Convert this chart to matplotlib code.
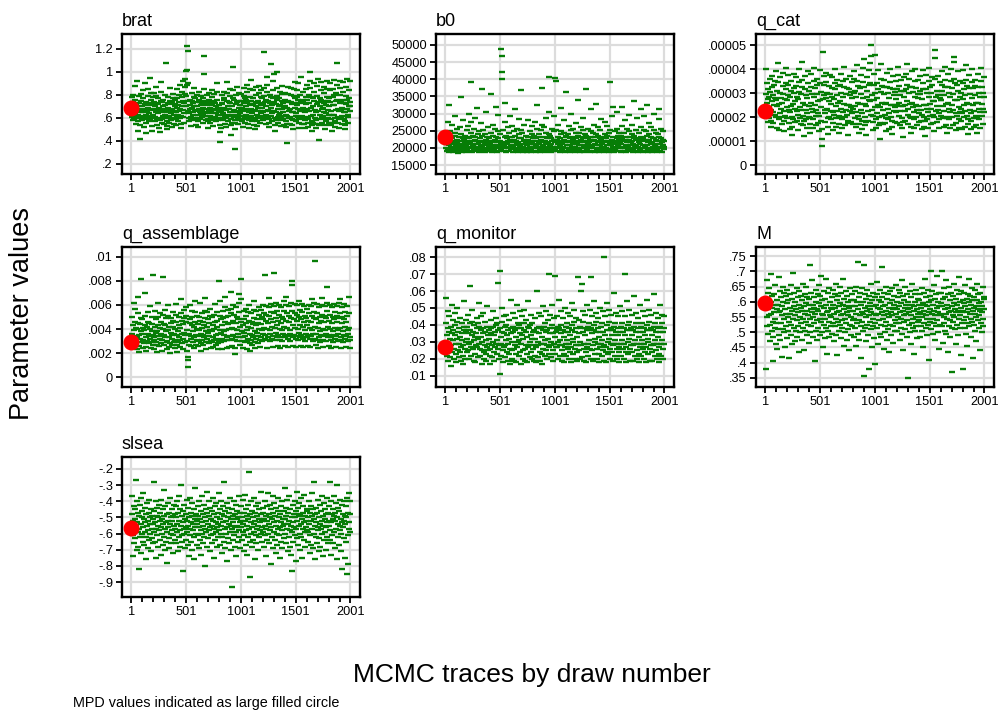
import numpy as np
import matplotlib
matplotlib.use('Agg')
import matplotlib.pyplot as plt
from matplotlib.ticker import FixedLocator

plt.rcParams['font.family'] = ['Liberation Sans', 'DejaVu Sans']

# ---------------- data (trace values) ----------------
# each trace is stored as integer levels: value = base + step * level
draw_first, draw_last = 1, 2001

brat_base, brat_step = 0.30, 0.01
brat = [
    39,42,48,31,28,50,44,36,33,29,40,58,46,34,25,30,41,62,37,32,27,19,33,43,49,38,30,12,24,36,45,51,35,40,32,28,35,47,54,31,22,29,38,42,60,44,33,26,17,30,36,41,49,55,39,31,27,34,65,43,28,32,46,52,37,23,19,30,41,48,
    33,38,44,52,40,31,27,35,43,49,57,36,29,24,34,42,47,39,30,21,18,28,37,45,53,61,44,35,29,26,32,40,46,38,31,25,33,41,50,78,36,30,23,20,27,35,43,48,39,32,26,31,37,45,56,42,34,28,22,29,38,44,51,47,36,30,25,33,40,46,
    42,35,29,24,31,39,47,55,41,33,27,36,44,50,59,38,30,25,21,32,40,48,53,62,45,37,31,26,34,43,51,57,64,49,40,71,59,72,93,88,60,45,36,30,27,34,41,46,38,29,23,31,39,45,52,43,35,28,33,40,48,56,47,37,30,24,29,36,44,50,
    40,33,27,22,30,38,46,53,44,35,29,34,41,49,42,36,31,26,33,39,47,55,68,84,45,38,32,28,35,43,50,41,34,27,21,29,37,44,52,46,39,32,26,31,36,42,48,54,41,34,28,23,30,38,45,51,43,37,31,27,34,40,46,53,60,39,33,28,35,41,
    37,30,24,18,9,21,29,36,43,50,42,34,28,33,39,46,53,47,38,31,25,22,30,37,45,52,61,40,33,27,32,38,44,49,55,43,35,29,24,15,26,33,40,47,54,74,46,37,31,26,3,20,28,35,42,50,57,44,36,30,25,33,39,45,52,41,34,28,32,38,
    45,51,39,32,27,22,29,36,43,49,56,47,38,31,26,33,40,46,53,59,44,37,30,25,21,28,35,42,48,55,63,45,38,32,27,34,41,47,54,42,36,30,24,20,29,37,44,50,57,40,33,27,23,31,39,45,52,58,43,36,30,26,34,41,48,54,47,39,32,28,
    35,42,49,56,87,44,36,30,25,33,40,46,53,59,66,45,37,31,26,22,29,36,43,50,77,48,39,32,27,34,41,47,54,62,68,44,36,30,24,19,28,35,42,49,56,70,46,38,31,26,33,40,47,53,41,34,28,23,30,38,45,51,58,43,35,29,24,32,39,46,
    52,40,33,27,22,8,25,32,39,45,51,57,44,36,30,25,31,38,44,50,56,42,35,29,24,20,28,35,43,49,55,61,47,39,32,27,34,41,48,54,60,46,38,31,26,21,29,36,43,50,66,45,37,30,25,32,39,46,53,44,36,30,25,21,28,35,42,48,55,59,
    46,38,31,26,22,29,36,43,50,56,62,70,48,39,32,27,24,19,26,33,40,47,53,60,45,37,30,25,21,28,35,42,49,58,64,44,36,29,24,11,25,33,40,47,54,61,46,38,31,26,32,39,45,52,57,43,35,29,24,20,27,34,41,48,55,62,45,37,30,26,
    33,40,47,54,60,44,36,29,24,19,26,33,41,48,55,63,50,41,33,27,22,30,37,45,52,59,78,46,38,31,26,21,29,36,43,50,56,62,45,37,30,25,32,39,46,53,61,43,35,29,24,20,27,35,42,49,57,64,46,38,31,26,33,40,47,54,62,44,36,40,
]

b0_base, b0_step = 18000, 400
b0 = [
    13,5,8,3,10,15,24,9,4,2,7,36,17,11,6,3,5,9,22,12,8,4,2,6,10,16,28,14,7,3,5,11,19,9,4,1,6,13,8,3,10,20,42,15,7,4,2,8,12,25,11,6,3,9,14,5,2,7,18,10,
    4,8,13,21,30,12,6,3,9,16,53,24,10,5,2,7,14,19,8,4,11,27,13,6,3,5,10,34,15,8,4,2,9,17,12,5,3,7,23,48,14,6,4,10,18,9,3,2,8,15,31,11,5,3,7,13,20,9,4,6,
    12,5,3,8,16,44,10,6,2,7,14,22,9,4,3,11,19,35,13,6,2,5,9,17,29,12,7,3,6,10,15,8,4,77,72,60,55,18,9,5,3,7,13,24,38,14,6,2,8,12,20,10,5,3,9,16,28,11,6,4,
    7,13,21,9,4,2,6,11,17,33,14,7,3,5,10,19,8,4,2,9,15,26,12,6,3,7,12,18,47,16,8,4,2,6,11,22,10,5,3,8,14,9,4,2,7,13,25,11,5,3,6,10,17,8,4,2,9,15,21,12,
    6,3,8,14,24,10,5,2,7,12,19,36,13,6,3,9,15,8,4,2,6,11,18,49,22,9,5,3,7,13,20,10,4,2,8,16,27,12,6,3,5,9,15,31,57,14,7,4,2,8,12,19,10,5,3,6,11,17,28,9,
    4,56,54,18,11,6,3,8,13,22,9,5,2,7,12,17,34,15,8,4,3,6,10,16,25,11,5,2,9,14,46,13,7,3,5,9,15,21,10,4,2,7,12,18,30,13,6,3,8,11,19,9,4,2,6,10,16,23,12,5,
    3,8,14,40,16,7,4,2,9,13,20,11,5,3,7,12,18,27,10,6,2,5,9,15,48,14,7,4,3,8,12,19,9,5,2,6,11,17,33,13,6,3,7,10,16,22,11,5,2,8,13,37,15,7,4,3,9,14,20,10,
    5,2,7,12,18,26,11,6,3,8,13,9,4,2,6,10,15,24,12,5,3,7,14,21,10,4,2,9,16,53,18,8,4,3,7,11,28,35,13,6,2,5,10,17,9,4,3,8,12,19,31,14,7,3,6,11,16,9,5,2,
    8,14,21,35,12,6,3,5,10,16,25,11,5,2,7,13,19,9,4,3,6,11,17,29,13,7,3,5,9,15,22,10,4,2,8,12,39,14,6,3,7,11,18,27,12,5,2,6,10,16,9,4,3,8,13,20,33,11,5,2,
    7,12,18,28,10,5,3,6,11,17,36,14,7,2,4,9,15,23,11,5,3,8,13,20,9,4,2,6,12,18,30,12,6,3,7,11,16,8,4,2,5,10,15,26,33,13,6,3,8,12,19,9,5,2,7,11,17,10,4,6,
]

q_cat_base, q_cat_step = 0.000005, 0.0000005
q_cat = [
    35,70,49,58,42,31,26,45,53,38,29,47,62,51,36,27,22,43,55,64,48,34,25,57,40,32,46,60,68,44,30,21,39,52,75,59,41,28,19,33,50,63,46,37,24,30,42,56,67,49,35,27,18,31,45,58,71,53,38,29,
    44,57,65,48,36,25,20,34,47,60,52,39,30,22,15,28,41,54,66,50,37,26,43,56,63,47,35,27,19,32,45,59,70,51,38,29,24,36,49,61,76,55,42,31,23,14,27,40,53,64,48,36,28,21,33,46,58,68,52,39,
    30,24,17,29,42,55,66,49,37,28,21,34,47,60,71,54,40,31,23,36,49,62,57,43,33,25,18,31,44,58,69,51,38,27,20,12,6,84,45,57,64,48,36,26,33,46,59,67,50,37,29,22,16,30,43,56,65,49,35,28,
    41,54,63,47,34,25,19,32,45,58,70,53,39,29,22,35,48,61,56,42,31,24,17,30,43,57,66,50,37,28,21,34,47,60,72,55,41,30,23,36,49,62,54,40,32,25,15,27,40,53,64,48,35,26,38,51,59,46,33,24,
    37,50,62,68,52,39,29,22,34,47,60,73,56,42,31,24,17,28,41,54,65,49,36,27,20,33,46,59,71,78,55,41,30,23,15,26,39,52,63,47,35,27,44,57,69,75,58,43,32,90,81,48,36,26,19,31,44,57,66,50,
    82,38,28,21,33,46,58,69,53,40,30,23,12,25,38,51,62,74,56,42,31,24,36,49,61,55,41,32,25,18,29,42,55,67,50,37,28,20,33,46,59,70,54,40,30,22,16,27,40,53,64,48,35,26,38,51,60,45,34,25,
    40,53,65,72,56,42,31,23,35,48,61,52,39,29,21,13,26,39,52,63,47,35,27,40,53,66,74,57,43,32,24,37,50,62,55,41,30,22,17,29,42,55,68,51,38,28,21,34,47,60,70,54,40,30,23,36,49,61,46,33,
    26,39,52,64,49,36,27,20,32,45,58,69,53,40,30,22,14,27,40,53,65,50,37,28,21,34,47,60,71,55,41,31,24,37,50,63,57,43,32,25,18,30,43,86,79,62,47,35,26,39,52,64,48,36,28,21,33,46,59,44,
    31,44,57,68,52,39,29,22,35,48,61,72,55,41,30,23,17,29,42,55,66,50,37,28,21,34,47,60,70,54,40,30,23,36,49,62,76,80,58,44,33,25,19,31,44,57,68,52,38,28,21,34,47,60,50,37,27,20,33,45,
    58,69,53,40,30,22,35,48,61,73,56,42,31,24,16,28,41,54,65,49,36,27,20,33,46,59,70,54,40,29,22,35,48,61,56,42,31,23,17,29,42,55,66,50,37,28,21,34,47,60,71,55,41,31,24,37,50,63,47,34,
]

q_assemblage_base, q_assemblage_step = 0.0005, 0.0001
q_assemblage = [
    24,31,45,38,26,19,57,34,22,29,41,52,36,25,18,28,35,48,62,40,30,21,16,27,39,77,44,33,24,31,43,36,26,19,23,34,46,65,38,28,20,17,25,37,49,41,31,23,29,40,54,35,27,19,24,33,45,39,30,22,
    80,26,18,28,37,50,43,32,24,16,22,33,45,57,38,29,21,27,36,48,41,31,23,17,26,35,47,78,39,30,22,28,38,51,44,33,25,18,24,34,46,55,37,28,20,15,23,32,44,40,30,22,27,37,49,42,31,24,19,26,
    35,47,56,41,30,22,16,24,33,45,38,28,20,26,36,48,60,42,31,23,18,27,39,51,44,32,24,30,41,53,46,34,25,17,12,3,9,22,31,43,55,40,29,21,27,38,50,45,33,24,19,28,37,49,58,41,30,22,26,35,
    46,39,29,21,25,34,45,57,42,31,23,17,26,36,48,41,30,22,28,38,50,61,44,33,24,18,27,37,49,43,32,23,29,40,52,46,34,25,19,24,33,45,38,28,20,26,35,47,56,41,30,22,27,37,49,42,31,23,18,25,
    75,34,46,58,43,32,24,18,27,38,50,44,33,25,30,41,53,62,45,34,26,19,28,39,51,46,35,26,20,29,40,52,66,48,36,27,21,30,42,55,47,35,26,19,14,28,40,53,45,34,25,31,43,57,64,49,37,28,22,77,
    60,41,33,25,19,28,38,50,43,32,24,29,40,52,46,34,25,18,27,37,49,55,42,31,23,17,26,36,48,41,30,22,28,39,51,58,44,33,24,19,27,38,50,43,32,23,29,40,53,47,35,26,20,28,39,51,45,34,25,31,
    43,55,48,36,27,80,30,42,54,47,35,26,19,28,40,53,61,46,34,25,31,43,56,49,37,27,20,29,41,54,82,48,36,26,32,44,57,50,38,28,21,30,42,55,47,35,26,19,28,40,53,45,34,25,31,43,58,50,37,28,
    21,30,42,55,62,48,36,27,20,29,41,54,46,34,25,31,44,57,75,72,50,38,28,21,30,43,56,48,36,27,20,29,42,55,47,35,26,32,45,58,51,38,28,21,30,43,56,49,37,27,20,28,41,54,46,34,25,31,44,52,
    38,28,21,30,42,55,48,36,27,20,29,41,54,60,46,34,25,31,44,57,49,37,27,92,22,31,43,56,48,36,26,19,28,40,53,45,33,24,30,42,55,61,47,35,26,20,29,41,54,46,34,25,31,44,57,70,50,37,28,21,
    30,42,55,47,35,26,19,28,40,53,45,33,24,30,43,56,49,36,27,20,29,41,54,46,34,25,31,44,57,60,48,36,26,19,28,40,53,45,33,24,30,43,56,49,37,27,20,29,41,54,46,34,25,31,62,48,36,26,19,28,
]

q_monitor_base, q_monitor_step = 0.008, 0.001
q_monitor = [
    19,33,48,26,14,22,40,30,11,17,28,37,24,13,8,20,31,44,27,16,23,35,29,12,18,26,39,32,21,15,10,24,34,42,28,17,13,21,30,36,25,16,11,19,27,33,23,14,9,20,31,46,29,18,12,22,35,28,16,24,
    31,38,27,17,12,21,29,55,33,22,14,19,26,34,41,28,18,11,23,32,25,15,10,20,27,36,30,19,13,24,33,45,31,21,14,18,25,37,29,17,9,22,30,39,27,16,12,20,28,34,23,15,11,19,31,43,26,17,21,29,
    24,14,9,18,27,35,30,20,13,22,31,40,26,16,11,19,28,36,32,21,15,23,33,57,29,18,12,20,64,3,30,21,14,25,34,42,28,17,10,19,27,37,31,20,13,23,32,38,26,16,11,21,29,35,24,15,9,18,30,47,
    27,17,12,22,31,39,28,18,11,20,29,36,25,15,10,19,30,44,33,22,14,23,32,40,27,16,9,21,30,37,26,17,12,24,33,41,29,18,11,20,28,35,25,15,10,19,31,46,30,20,13,22,32,38,26,16,12,24,33,28,
    18,11,20,29,36,24,14,10,19,28,52,30,20,13,22,31,39,27,16,11,21,30,37,25,15,9,18,29,43,31,21,14,23,33,40,28,17,12,20,29,35,24,15,62,19,27,38,30,20,13,22,32,44,27,17,11,21,30,36,25,
    15,61,19,28,37,29,19,12,22,31,47,30,20,14,23,32,40,27,17,11,20,29,36,25,15,10,19,28,42,31,21,14,23,33,39,28,18,12,21,30,37,26,16,10,19,29,45,32,22,15,24,34,41,28,18,12,20,30,36,25,
    16,11,20,60,35,27,17,12,22,31,52,30,20,13,56,34,40,28,18,11,21,30,38,26,16,10,19,29,44,31,21,14,23,33,41,29,18,12,60,30,37,27,17,11,20,29,46,32,22,15,24,34,39,28,18,12,21,30,36,25,
    15,10,19,28,42,31,21,14,23,33,40,28,17,11,20,72,37,26,16,10,19,29,45,32,22,15,24,34,41,29,18,12,21,30,38,26,16,11,20,29,51,31,21,14,23,33,39,28,18,12,21,30,37,26,16,10,19,28,43,31,
    21,14,23,33,40,28,18,12,21,30,62,37,26,16,10,19,29,46,32,22,15,24,34,41,29,18,11,20,30,38,26,16,11,20,29,49,31,21,14,23,33,39,28,17,12,21,30,36,25,15,10,19,28,44,31,21,14,23,33,40,
    28,18,12,21,30,37,26,16,10,19,29,47,32,22,15,24,34,41,29,18,11,20,30,38,26,16,11,20,29,50,31,21,14,23,33,39,28,17,12,21,30,36,25,15,10,19,28,44,31,21,14,23,33,38,28,18,12,21,30,37,
]

M_base, M_step = 0.34, 0.005
M = [
    51,8,54,42,36,66,47,31,58,43,49,61,37,26,52,44,70,33,48,56,39,29,13,45,57,35,41,63,50,24,38,53,47,21,34,50,68,45,30,59,46,27,55,38,49,16,43,62,52,34,41,58,32,22,47,56,36,44,28,51,
    60,42,33,53,39,15,48,57,44,30,63,37,46,24,54,41,71,35,49,58,26,43,52,33,47,61,40,29,55,45,36,19,50,59,42,32,48,56,38,46,27,53,64,41,35,49,20,44,57,33,51,62,39,30,46,55,37,43,25,50,
    54,76,41,32,47,58,36,45,66,50,29,42,55,38,48,13,44,60,33,52,40,27,47,57,35,46,63,51,30,41,56,39,49,69,44,32,53,22,43,59,37,48,28,54,41,67,35,50,18,45,58,33,46,61,39,29,52,43,36,48,
    42,55,31,47,60,38,50,26,44,57,36,48,64,41,30,53,45,17,39,56,49,33,46,62,37,51,28,43,58,40,35,50,67,44,23,54,47,32,41,59,38,49,27,45,56,34,52,43,20,48,61,37,46,30,53,42,57,36,49,40,
    46,29,53,41,59,35,49,23,44,62,38,52,31,47,78,40,55,27,43,58,36,50,15,45,61,39,33,52,44,76,3,48,57,35,42,26,54,46,60,37,49,30,43,56,8,51,39,47,64,34,45,22,53,41,58,36,49,28,44,55,
    38,11,50,43,57,65,35,48,24,44,53,40,31,47,60,37,52,29,45,55,75,41,49,21,43,58,36,50,32,46,62,39,54,27,44,57,34,48,42,19,51,59,37,45,30,53,43,61,36,47,25,50,56,40,33,48,63,44,38,52,
    47,33,55,42,60,38,49,27,45,58,35,51,41,66,31,46,56,20,43,53,39,48,62,34,50,44,29,57,40,47,2,52,37,45,59,32,48,24,43,55,38,50,64,41,35,49,18,46,57,33,52,42,60,36,47,28,44,54,39,50,
    40,53,45,29,57,36,48,61,42,33,51,44,22,46,58,38,50,67,35,43,55,41,30,49,60,37,52,45,14,47,56,39,53,72,34,44,59,41,31,50,46,63,38,27,54,43,57,36,48,69,40,32,52,45,21,49,58,37,44,51,
    58,43,36,72,49,25,54,42,61,38,47,33,55,44,66,31,50,41,19,48,57,36,45,62,40,29,53,46,58,35,49,6,43,56,39,51,64,42,34,47,24,54,45,60,37,50,30,46,57,41,68,35,52,43,17,48,59,38,45,53,
    46,8,51,40,58,35,49,63,42,31,54,45,23,47,57,38,52,67,36,44,56,41,29,50,61,39,53,46,15,48,55,37,44,60,33,49,42,26,53,64,40,47,57,35,51,43,20,46,58,38,52,45,32,49,62,41,36,54,47,55,
]

slsea_base, slsea_step = -0.95, 0.01
slsea = [
    39,58,47,34,43,21,52,37,29,44,50,32,68,40,25,55,42,36,48,27,38,46,13,53,33,41,57,23,45,35,49,30,60,39,44,28,51,36,42,19,47,33,54,40,26,43,37,48,31,56,41,35,45,24,50,38,32,46,29,41,
    44,67,36,49,30,42,55,38,20,46,34,51,40,27,45,37,53,31,43,48,22,39,56,35,44,28,50,41,33,62,46,25,38,52,42,30,47,36,17,43,54,39,32,48,26,41,57,35,45,29,50,37,43,23,46,34,53,40,31,47,
    38,52,29,45,36,55,41,24,48,33,43,58,37,27,50,40,65,34,46,30,42,12,49,38,35,53,26,44,39,47,31,56,36,43,28,51,40,21,45,34,57,38,48,30,42,54,25,46,37,41,33,50,19,44,39,63,35,47,28,43,
    41,52,34,46,26,39,55,31,44,37,49,22,42,58,35,47,29,40,53,33,45,15,38,50,36,43,27,48,61,32,41,55,37,46,24,39,51,34,44,29,49,40,57,35,43,20,47,38,52,31,42,36,54,27,45,39,48,33,41,60,
    37,50,28,44,35,55,40,23,47,33,52,42,30,46,67,38,49,26,43,35,54,39,18,45,32,51,41,29,48,36,57,40,25,44,2,50,38,31,46,42,55,34,27,47,39,53,36,21,44,40,49,30,45,37,58,33,42,48,26,43,
    39,52,31,45,36,56,41,24,48,34,43,59,37,28,50,40,22,46,33,44,53,38,73,30,8,47,42,55,35,27,49,39,45,31,57,41,36,19,48,43,52,34,29,46,38,54,40,25,44,33,50,37,42,61,35,47,30,43,39,51,
    36,48,27,44,34,55,40,21,46,38,52,31,43,60,35,47,29,41,53,37,45,16,39,50,33,44,26,48,58,36,42,54,31,46,23,40,51,35,43,28,49,38,57,34,45,20,47,39,52,30,42,37,55,26,44,40,49,32,41,63,
    44,35,51,29,46,38,56,41,24,48,33,43,58,37,27,50,40,22,45,12,36,53,42,30,47,39,55,34,45,18,49,38,61,32,43,51,28,46,40,54,35,25,47,41,57,33,44,20,48,38,52,31,42,59,36,46,27,43,39,50,
    37,49,30,45,36,55,41,23,48,34,52,43,28,46,60,38,50,26,44,35,67,40,19,47,33,51,42,29,48,37,56,39,24,45,32,53,41,27,49,38,58,35,43,21,46,40,54,31,44,36,50,25,47,39,57,33,42,48,29,43,
    40,52,31,67,37,55,42,22,47,34,50,44,29,46,58,36,48,26,43,38,54,65,19,45,33,51,41,28,49,37,56,40,24,44,35,53,42,13,47,39,55,32,43,20,46,41,52,30,45,10,57,34,48,16,42,60,38,47,55,36,
]

names = ["brat", "b0", "q_cat", "q_assemblage", "q_monitor", "M", "slsea"]
levels = [brat, b0, q_cat, q_assemblage, q_monitor, M, slsea]
bases = [brat_base, b0_base, q_cat_base, q_assemblage_base, q_monitor_base, M_base, slsea_base]
steps = [brat_step, b0_step, q_cat_step, q_assemblage_step, q_monitor_step, M_step, slsea_step]
mpd = [0.69, 23300, 0.0000225, 0.0029, 0.0272, 0.595, -0.565]

yticks = [
    [.2, .4, .6, .8, 1, 1.2],
    [15000, 20000, 25000, 30000, 35000, 40000, 45000, 50000],
    [0, .00001, .00002, .00003, .00004, .00005],
    [0, .002, .004, .006, .008, .01],
    [.01, .02, .03, .04, .05, .06, .07, .08],
    [.35, .4, .45, .5, .55, .6, .65, .7, .75],
    [-.9, -.8, -.7, -.6, -.5, -.4, -.3, -.2],
]
ytick_labels = [
    [".2", ".4", ".6", ".8", "1", "1.2"],
    ["15000", "20000", "25000", "30000", "35000", "40000", "45000", "50000"],
    ["0", ".00001", ".00002", ".00003", ".00004", ".00005"],
    ["0", ".002", ".004", ".006", ".008", ".01"],
    [".01", ".02", ".03", ".04", ".05", ".06", ".07", ".08"],
    [".35", ".4", ".45", ".5", ".55", ".6", ".65", ".7", ".75"],
    ["-.9", "-.8", "-.7", "-.6", "-.5", "-.4", "-.3", "-.2"],
]
xticks = [1, 501, 1001, 1501, 2001]
xtick_labels = ["1", "501", "1001", "1501", "2001"]
xminor = [101, 201, 301, 401, 601, 701, 801, 901, 1101, 1201, 1301, 1401,
          1601, 1701, 1801, 1901]

# ---------------- layout / style ----------------
W, H = 1003, 713
fig = plt.figure(figsize=(W / 100, H / 100), dpi=100)
fig.patch.set_facecolor("white")

ylims = [(0.113, 1.33), (12400, 53200), (-0.00000375, 0.0000546),
         (-0.00083, 0.01083), (0.0035, 0.0859), (0.32, 0.78), (-0.992, -0.126)]
col_left = [122, 436, 756]
row_top = [34, 247, 457]
box_w, box_h = 238, 140

GREEN = "#067d06"
RED = "#ff0000"
GRID = "#dcdcdc"

for k, name in enumerate(names):
    r, c = divmod(k, 3)
    rect = [col_left[c] / W, 1 - (row_top[r] + box_h) / H, box_w / W, box_h / H]
    ax = fig.add_axes(rect)
    vals = bases[k] + steps[k] * np.array(levels[k], dtype=float)
    x = np.linspace(draw_first, draw_last, len(vals))
    ax.plot(x, vals, linestyle="none", marker="_", ms=4.0, mew=1.7,
            color=GREEN, zorder=3)
    ax.plot([draw_first], [mpd[k]], linestyle="none", marker="o", ms=10.5,
            color=RED, mec=RED, zorder=4)
    ax.set_xlim(-85, 2088)
    ax.set_ylim(*ylims[k])
    ax.xaxis.set_major_locator(FixedLocator(xticks))
    ax.set_xticklabels(xtick_labels)
    ax.xaxis.set_minor_locator(FixedLocator(xminor))
    ax.yaxis.set_major_locator(FixedLocator(yticks[k]))
    ax.set_yticklabels(ytick_labels[k])
    ax.grid(True, which="major", color=GRID, lw=1.6, zorder=0)
    ax.set_axisbelow(True)
    for s in ax.spines.values():
        s.set_linewidth(1.7)
        s.set_color("black")
    ax.tick_params(axis="both", which="major", direction="out", length=4.5,
                   width=1.3, labelsize=9.2, pad=2, colors="black")
    ax.tick_params(axis="x", which="minor", direction="out", length=3.5,
                   width=1.3)
    ax.set_title(name, loc="left", fontsize=13, pad=6)

fig.text(22 / W, 1 - 313 / H, "Parameter values", rotation=90, fontsize=19.5,
         ha="center", va="center")
fig.text(532 / W, 1 - 675 / H, "MCMC traces by draw number", fontsize=19,
         ha="center", va="center")
fig.text(73 / W, 1 - 703 / H, "MPD values indicated as large filled circle",
         fontsize=10.4, ha="left", va="center")

fig.savefig("out.png", dpi=100, facecolor="white")
